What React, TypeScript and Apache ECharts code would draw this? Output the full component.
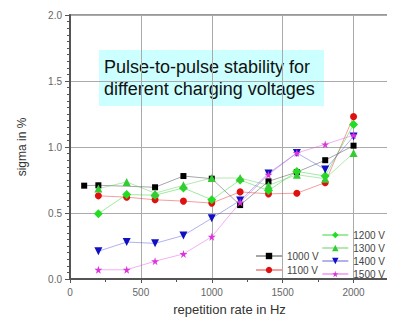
import React, { useEffect, useRef } from "react";
import * as echarts from "echarts";

const xTicks = [0, 500, 1000, 1500, 2000];
const yTicks = [0.0, 0.5, 1.0, 1.5, 2.0];
const rates = [200, 400, 600, 800, 1000, 1200, 1400, 1600, 1800, 2000];
const rates1000 = [100, 200, 600, 800, 1000, 1200, 1400, 1600, 1800, 2000];
const v1000 = [0.707, 0.71, 0.695, 0.78, 0.76, 0.56, 0.74, 0.81, 0.9, 1.01];
const v1100 = [0.63, 0.62, 0.6, 0.59, 0.575, 0.66, 0.645, 0.65, 0.73, 1.23];
const v1200 = [0.495, 0.64, 0.635, 0.69, 0.6, 0.75, 0.67, 0.815, 0.78, 1.17];
const v1300 = [0.685, 0.735, 0.65, 0.71, 0.765, 0.765, 0.71, 0.79, 0.76, 0.955];
const v1400 = [0.21, 0.28, 0.27, 0.33, 0.46, 0.595, 0.8, 0.955, 0.83, 1.08];
const v1500 = [0.07, 0.07, 0.135, 0.19, 0.32, 0.58, 0.79, 0.955, 1.02, 1.09];
const seriesNames = ["1000 V", "1100 V", "1200 V", "1300 V", "1400 V", "1500 V"];
const titleLines = ["Pulse-to-pulse stability for", "different charging voltages"];

const STAR = "path://M50,0 L61,35 L98,35 L68,57 L79,91 L50,70 L21,91 L32,57 L2,35 L39,35 Z";

function pairs(xs: number[], ys: number[]) {
  return xs.map((x, i) => [x, ys[i]]);
}

export default function App() {
  const ref = useRef<HTMLDivElement>(null);
  useEffect(() => {
    if (!ref.current) return;
    const chart = echarts.init(ref.current, null, { renderer: "svg" });
    const mk = (
      name: string,
      data: number[][],
      color: string,
      lineColor: string,
      symbol: string,
      size: number,
      rotate = 0
    ) => ({
      name,
      type: "line",
      data,
      symbol,
      symbolSize: size,
      symbolRotate: rotate,
      itemStyle: { color },
      lineStyle: { color: lineColor, width: 1 },
      z: 3,
    });
    const legendText = { fontSize: 10, color: "#444", fontFamily: "Liberation Sans, Arial" };
    chart.setOption({
      animation: false,
      backgroundColor: "#fff",
      grid: {
        left: 70,
        right: 6,
        top: 15,
        bottom: 45,
        show: true,
        borderColor: "#777",
        borderWidth: 1.5,
      },
      xAxis: {
        type: "value",
        min: 0,
        max: 2250,
        interval: 500,
        name: "repetition rate in Hz",
        nameLocation: "middle",
        nameGap: 24,
        nameTextStyle: { fontSize: 13, color: "#333", fontFamily: "Liberation Sans, Arial" },
        axisLine: { show: true, lineStyle: { color: "#555", width: 2 } },
        axisTick: { show: true, length: 4, lineStyle: { color: "#555" } },
        minorTick: { show: true, splitNumber: 2, length: 3, lineStyle: { color: "#555" } },
        axisLabel: {
          color: "#666",
          fontSize: 10,
          fontFamily: "Liberation Sans, Arial",
          showMaxLabel: false,
          formatter: (v: number) => (xTicks.includes(v) ? String(v) : ""),
        },
        splitLine: { show: true, lineStyle: { color: "#aaa", width: 1 } },
      },
      yAxis: {
        type: "value",
        min: 0,
        max: 2,
        interval: 0.5,
        name: "sigma in %",
        nameLocation: "middle",
        nameGap: 42,
        nameTextStyle: { fontSize: 12, color: "#333", fontFamily: "Liberation Sans, Arial" },
        axisLine: { show: true, lineStyle: { color: "#555", width: 2 } },
        axisTick: { show: true, length: 5, lineStyle: { color: "#555" } },
        minorTick: { show: true, splitNumber: 10, length: 3, lineStyle: { color: "#555" } },
        axisLabel: {
          color: "#666",
          fontSize: 10,
          fontFamily: "Liberation Sans, Arial",
          formatter: (v: number) => (yTicks.includes(v) ? v.toFixed(1) : ""),
        },
        splitLine: { show: true, lineStyle: { color: "#aaa", width: 1 } },
      },
      legend: [
        {
          data: [seriesNames[0], seriesNames[1]],
          orient: "vertical",
          left: 255,
          top: 251,
          padding: 0,
          itemWidth: 26,
          itemHeight: 8,
          itemGap: 4,
          textStyle: legendText,
        },
        {
          data: [seriesNames[2], seriesNames[3], seriesNames[4], seriesNames[5]],
          orient: "vertical",
          right: 10,
          top: 230,
          padding: 0,
          itemWidth: 26,
          itemHeight: 8,
          itemGap: 3,
          textStyle: legendText,
        },
      ],
      graphic: [
        {
          type: "group",
          left: 99,
          top: 50,
          children: [
            {
              type: "rect",
              shape: { x: 0, y: 0, width: 225, height: 56 },
              style: { fill: "#ccffff" },
            },
            {
              type: "text",
              x: 5,
              y: 6,
              style: {
                text: titleLines.join("\n"),
                fontSize: 18,
                lineHeight: 22,
                fill: "#111",
                fontFamily: "Liberation Sans Narrow, Arial Narrow, Liberation Sans, Arial",
              },
            },
          ],
        },
      ],
      series: [
        mk(seriesNames[0], pairs(rates1000, v1000), "#000000", "rgba(0,0,0,0.35)", "rect", 6),
        mk(seriesNames[1], pairs(rates, v1100), "#e01010", "rgba(230,40,40,0.45)", "circle", 7),
        mk(seriesNames[2], pairs(rates, v1200), "#22dd22", "rgba(40,210,40,0.45)", "diamond", 9),
        mk(seriesNames[3], pairs(rates, v1300), "#33cc33", "rgba(60,200,60,0.4)", "triangle", 8),
        mk(seriesNames[4], pairs(rates, v1400), "#1010c0", "rgba(60,60,220,0.4)", "triangle", 8, 180),
        mk(seriesNames[5], pairs(rates, v1500), "#dd33dd", "rgba(230,80,230,0.45)", STAR, 8),
      ],
    });
    return () => chart.dispose();
  }, []);
  return <div ref={ref} style={{ width: 395, height: 324, marginLeft: -8, marginTop: -8 }} />;
}
